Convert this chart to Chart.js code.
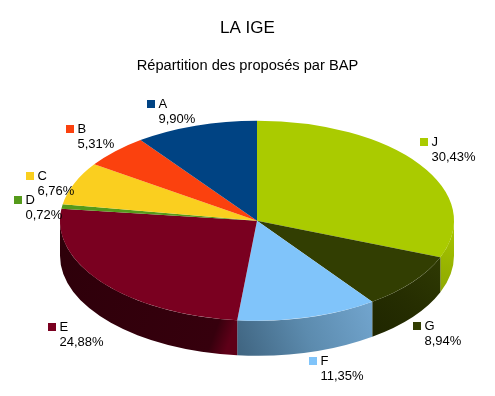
<!DOCTYPE html>
<html>
<head>
<meta charset="utf-8">
<style>
  html, body { margin: 0; padding: 0; background: #fff; }
  canvas { display: block; }
</style>
<script src="https://cdn.jsdelivr.net/npm/chart.js@4"></script>
</head>
<body>
<canvas id="pie3d" width="495" height="396"></canvas>
<script>
// clockwise from 12 o'clock, same order as the picture
const categories = ['J', 'G', 'F', 'E', 'D', 'C', 'B', 'A'];
const shares = [30.43, 8.94, 11.35, 24.88, 0.72, 6.76, 5.31, 9.90];
const topColors = ['#aacb00', '#323e02', '#80c4fa', '#7a0020', '#559a1b', '#facf1f', '#fb410e', '#004383'];
// side wall shading as [position, colour], start of slice to end of slice
const wallStops = [
    [[0, '#a9c800'], [1, '#8ea800']],
    [[0, '#2f3a03'], [0.5, '#262e01'], [1, '#1f2600']],
    [[0, '#72a5ce'], [0.5, '#5c8bae'], [1, '#3f6480']],
    [[0, '#5e0018'], [0.09, '#36000d'], [1, '#2e000a']],
    [[0, '#2f5510'], [1, '#2f5510']],
    [[0, '#8a7211'], [1, '#8a7211']],
    [[0, '#8a2408'], [1, '#8a2408']],
    [[0, '#002549'], [1, '#002549']]
];
// label box offset from the slice's rim point
const labelShift = [[0, -22], [0, 43.5], [1, 44], [-55, 44], [-48, -6], [-48, -7], [-49, -22], [-49, -22]];

const CENTER_X = 257;
const CENTER_Y = 220.7;
const RADIUS_X = 197;
const RADIUS_Y = 100;
const DEPTH = 35;

function formatShare(v) {
    return v.toFixed(2).replace('.', ',') + '%';
}

function drawWall(ctx, start, end, stops) {
    // only the part of the slice facing the viewer has a wall
    const from = Math.max(start, 0);
    const to = Math.min(end, Math.PI);
    if (to <= from) return;

    const x0 = CENTER_X + RADIUS_X * Math.cos(from);
    const y0 = CENTER_Y + RADIUS_Y * Math.sin(from);
    const x1 = CENTER_X + RADIUS_X * Math.cos(to);
    const y1 = CENTER_Y + RADIUS_Y * Math.sin(to) + DEPTH;

    const grad = ctx.createLinearGradient(x0, y0, x1, y1);
    stops.forEach(s => grad.addColorStop(s[0], s[1]));

    ctx.beginPath();
    ctx.ellipse(CENTER_X, CENTER_Y, RADIUS_X, RADIUS_Y, 0, from, to);
    ctx.ellipse(CENTER_X, CENTER_Y + DEPTH, RADIUS_X, RADIUS_Y, 0, to, from, true);
    ctx.closePath();
    ctx.fillStyle = grad;
    ctx.fill();
}

const tiltPlugin = {
    id: 'tilt',
    beforeDatasetsDraw(chart) {
        const ctx = chart.ctx;
        const arcs = chart.getDatasetMeta(0).data;

        arcs.forEach((arc, i) => {
            drawWall(ctx, arc.startAngle, arc.endAngle, wallStops[i]);
        });

        // squash the library's round pie into the top of the disc
        ctx.save();
        ctx.translate(CENTER_X, CENTER_Y);
        ctx.scale(RADIUS_X / arcs[0].outerRadius, RADIUS_Y / arcs[0].outerRadius);
        ctx.translate(-arcs[0].x, -arcs[0].y);
    },
    afterDatasetsDraw(chart) {
        chart.ctx.restore();
    },
    afterDraw(chart) {
        const ctx = chart.ctx;
        ctx.save();
        ctx.font = '13px "Liberation Sans"';
        ctx.textBaseline = 'middle';
        ctx.textAlign = 'left';

        chart.getDatasetMeta(0).data.forEach((arc, i) => {
            const mid = (arc.startAngle + arc.endAngle) / 2;
            const x = Math.round(CENTER_X + RADIUS_X * Math.cos(mid) + labelShift[i][0]);
            const y = Math.round(CENTER_Y + RADIUS_Y * Math.sin(mid) + labelShift[i][1]);

            ctx.fillStyle = topColors[i];
            ctx.fillRect(x, y - 4, 8, 8);

            ctx.fillStyle = '#000';
            ctx.fillText(categories[i], x + 11.5, y);
            ctx.fillText(formatShare(shares[i]), x + 11.5, y + 15);
        });
        ctx.restore();
    }
};

new Chart(document.getElementById('pie3d'), {
    type: 'pie',
    data: {
        labels: categories,
        datasets: [{
            data: shares,
            backgroundColor: topColors,
            borderWidth: 0,
            radius: RADIUS_X,
            clip: false
        }]
    },
    options: {
        responsive: false,
        animation: false,
        plugins: {
            legend: { display: false },
            tooltip: { enabled: false },
            title: {
                display: true,
                text: 'LA IGE',
                color: '#000',
                font: { family: '"Liberation Sans"', size: 17, weight: 'normal' },
                padding: { top: 18.5, bottom: 0 }
            },
            subtitle: {
                display: true,
                text: 'Répartition des proposés par BAP',
                color: '#000',
                font: { family: '"Liberation Sans"', size: 14.67, weight: 'normal' },
                padding: { top: 18, bottom: 0 }
            }
        }
    },
    plugins: [tiltPlugin]
});
</script>
</body>
</html>
